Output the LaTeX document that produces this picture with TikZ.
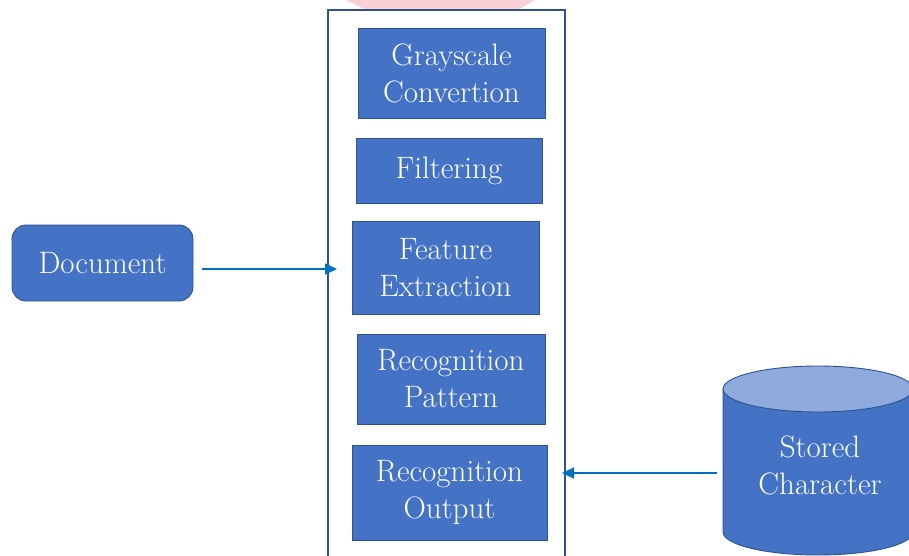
\documentclass[tikz,border=0pt]{standalone}
\usepackage{fontspec}
\usetikzlibrary{arrows.meta}
\definecolor{boxfill}{HTML}{4472C4}
\definecolor{boxline}{HTML}{2F528F}
\definecolor{topfill}{HTML}{8FAADC}
\definecolor{arrowblue}{HTML}{0070C0}
\definecolor{wmpink}{RGB}{251,208,212}
\tikzset{
  pbox/.style={draw=boxline, line width=0.9pt, fill=boxfill, text=white,
    align=center, inner sep=0pt, font=\rmfamily\fontsize{31}{37}\selectfont},
  docbox/.style={pbox, rounded corners=14pt},
  conn/.style={draw=arrowblue, line width=1.2pt, -{Triangle[length=12pt,width=11pt]}},
  frame/.style={draw=boxline, line width=1.4pt},
  cyltext/.style={text=white, align=center, inner sep=0pt, font=\rmfamily\fontsize{31}{37}\selectfont}
}
\begin{document}
\begin{tikzpicture}[x=1pt,y=-1pt]
\useasboundingbox (0,0) rectangle (909,556);
\clip (0,0) rectangle (909,556);
% watermark fragment
\fill[wmpink] (346,0) -- (535,0) -- (518,10) -- (366,10) -- cycle;
% container
\coordinate (cl) at (328,269);
\coordinate (cr) at (565,473);
\draw[frame] (328,562) -- (328,10) -- (565,10) -- (565,562);
% process boxes
\node[pbox, minimum width=187pt, minimum height=90pt] (gray) at (451.5,73) {Grayscale\\Convertion};
\node[pbox, minimum width=186pt, minimum height=65pt] (filt) at (449,170.5) {Filtering};
\node[pbox, minimum width=187pt, minimum height=93pt] (feat) at (445.5,267.5) {Feature\\Extraction};
\node[pbox, minimum width=188pt, minimum height=90pt] (patt) at (451,379) {Recognition\\Pattern};
\node[pbox, minimum width=195pt, minimum height=95pt] (outp) at (449.5,492.5) {Recognition\\Output};
% document
\node[docbox, minimum width=181pt, minimum height=76pt] (doc) at (102.5,263) {Document};
% stored character cylinder
\fill[boxfill] (723,389) -- (723,532) arc[start angle=180, end angle=0, x radius=95, y radius=23] -- (913,389) -- cycle;
\draw[boxline, line width=0.9pt] (723,389) -- (723,532) arc[start angle=180, end angle=0, x radius=95, y radius=23] -- (913,389);
\filldraw[fill=topfill, draw=boxline, line width=0.9pt] (818,389) ellipse[x radius=95, y radius=23];
\node[cyltext, minimum width=190pt, minimum height=120pt] (store) at (820,465) {Stored\\Character};
% connectors
\draw[conn] ([xshift=9pt]doc.east |- cl) -- ([xshift=9pt]cl);
\draw[conn] ([xshift=-8pt]store.west |- cr) -- ([xshift=-3pt]cr);
\end{tikzpicture}
\end{document}
